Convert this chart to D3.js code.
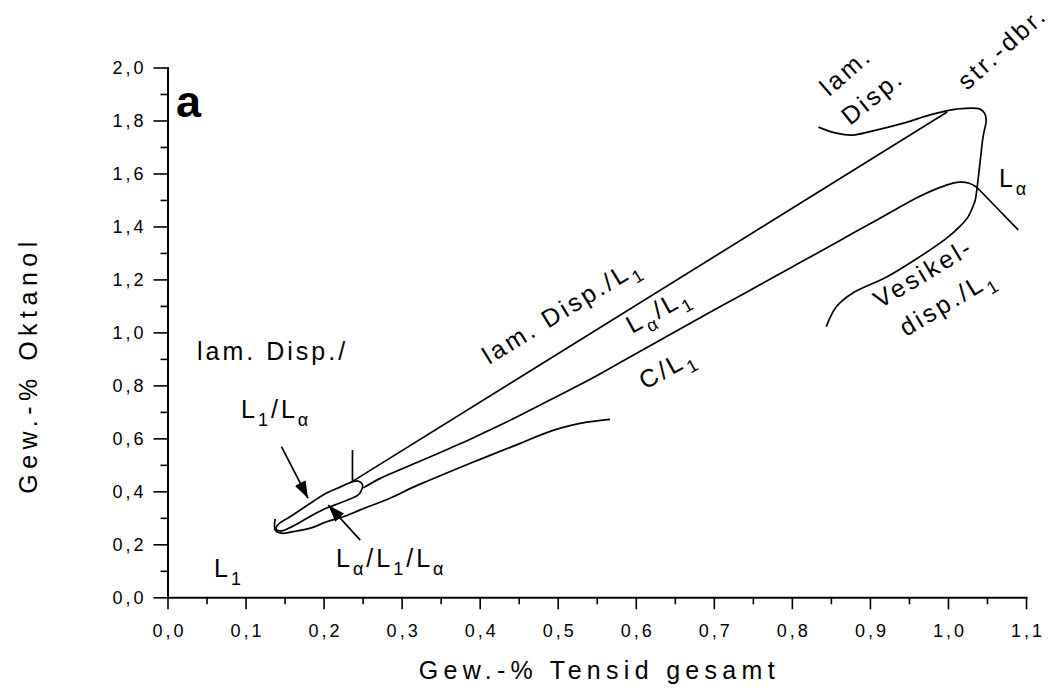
<!DOCTYPE html>
<html><head><meta charset="utf-8">
<script src="https://cdn.jsdelivr.net/npm/d3@7/dist/d3.min.js"></script>
<style>
body{margin:0;background:#fff}
text{font-family:"Liberation Sans",Arial,sans-serif;fill:#000}
</style>
</head><body>
<svg id="chart" width="1061" height="693"></svg>
<script>
// ---------- data (Gew.-% Tensid gesamt, Gew.-% Oktanol) ----------
const X_MAJOR = [0,0.1,0.2,0.3,0.4,0.5,0.6,0.7,0.8,0.9,1.0,1.1];
const X_LABELS = ["0,0","0,1","0,2","0,3","0,4","0,5","0,6","0,7","0,8","0,9","1,0","1,1"];
const X_MINOR = [0.05,0.15,0.25,0.35,0.45,0.55,0.65,0.75,0.85,0.95,1.05];
const Y_MAJOR = [0,0.2,0.4,0.6,0.8,1.0,1.2,1.4,1.6,1.8,2.0];
const Y_LABELS = ["0,0","0,2","0,4","0,6","0,8","1,0","1,2","1,4","1,6","1,8","2,0"];
const Y_MINOR = [0.1,0.3,0.5,0.7,0.9,1.1,1.3,1.5,1.7,1.9];

// straight boundary lam. Disp./L1
const lineLamDisp = [[0.234,0.432],[0.999,1.832]];
// small vertical mark at the end of the loop
const markLine = [[0.237,0.556],[0.237,0.436]];
// upper / right boundary (lam. Disp., str.-dbr., Vesikel-disp.)
const curveTop = [
  [0.834,1.775],[0.857,1.752],[0.878,1.745],[0.900,1.758],[0.942,1.789],[0.977,1.821],
  [0.998,1.836],[1.011,1.843],[1.041,1.843],[1.047,1.827],[1.049,1.802],[1.045,1.739],
  [1.041,1.638],[1.037,1.538],[1.035,1.500],[1.032,1.475],[1.026,1.437],[1.015,1.399],
  [0.998,1.355],[0.964,1.286],[0.922,1.210],[0.878,1.149],[0.857,1.097],[0.844,1.022]
];
// L_alpha / L1 boundary (middle curve)
const curveMiddle = [
  [0.251,0.413],[0.272,0.448],[0.315,0.503],[0.362,0.563],[0.388,0.597],[0.439,0.668],
  [0.490,0.745],[0.541,0.822],[0.588,0.900],[0.644,0.992],[0.699,1.083],[0.742,1.152],
  [0.801,1.248],[0.849,1.326],[0.878,1.374],[0.922,1.446],[0.964,1.514],[0.998,1.556],
  [1.015,1.567],[1.028,1.562],[1.037,1.548]
];
// L_alpha boundary straight tail
const lineAlphaTail = [[1.037,1.548],[1.090,1.387]];
// lower curve (C / L1)
const curveLower = [
  [0.138,0.296],[0.138,0.254],[0.146,0.242],[0.161,0.248],[0.183,0.261],[0.204,0.285],
  [0.225,0.304],[0.247,0.330],[0.285,0.374],[0.315,0.416],[0.334,0.440],[0.388,0.506],
  [0.452,0.581],[0.494,0.630],[0.537,0.661],[0.567,0.672]
];
// three-phase loop L_alpha/L1/L_alpha
const loopCurve = [
  [0.139,0.262],[0.144,0.281],[0.157,0.304],[0.186,0.361],[0.204,0.394],[0.221,0.416],
  [0.238,0.437],[0.244,0.439],[0.250,0.424],[0.248,0.401],[0.244,0.386],[0.221,0.356],
  [0.204,0.337],[0.186,0.311],[0.166,0.277],[0.148,0.252],[0.140,0.254]
];
// annotation arrows [from, to]
const arrowsData = [
  [[0.146,0.569],[0.180,0.374]],
  [[0.247,0.216],[0.206,0.348]]
];

// ---------- layout ----------
const svg = d3.select("#chart");
const x = d3.scaleLinear().domain([0,1.1]).range([167.5,1026]);
const y = d3.scaleLinear().domain([0,2.0]).range([597.3,67.5]);

// axes
const gxMinor = svg.append("g").attr("transform",`translate(0,${y(0)})`)
  .call(d3.axisBottom(x).tickValues(X_MINOR).tickSize(7).tickSizeOuter(0).tickFormat(""));
gxMinor.select(".domain").remove();
const gx = svg.append("g").attr("transform",`translate(0,${y(0)})`)
  .call(d3.axisBottom(x).tickValues(X_MAJOR).tickSize(12).tickSizeOuter(0)
    .tickFormat((d,i)=>X_LABELS[i]));
gx.selectAll("text").attr("y",40).attr("dy",null).attr("dx",1.5)
  .style("font-size","18px").style("letter-spacing","3px");

const gyMinor = svg.append("g").attr("transform",`translate(${x(0)},0)`)
  .call(d3.axisLeft(y).tickValues(Y_MINOR).tickSize(7).tickSizeOuter(0).tickFormat(""));
gyMinor.select(".domain").remove();
const gy = svg.append("g").attr("transform",`translate(${x(0)},0)`)
  .call(d3.axisLeft(y).tickValues(Y_MAJOR).tickSize(14).tickSizeOuter(0)
    .tickFormat((d,i)=>Y_LABELS[i]));
gy.selectAll("text").attr("x",-21).attr("dy","0.36em")
  .style("font-size","18px").style("letter-spacing","3px");

svg.selectAll(".domain").attr("stroke","#000").attr("stroke-width",2).attr("stroke-linecap","square");
svg.selectAll(".tick line").attr("stroke","#000").attr("stroke-width",1.6);
svg.selectAll(".tick text").attr("fill","#000");

// axis titles
svg.append("text").attr("x",(x(0)+x(1.1))/2+2.6).attr("y",679)
  .attr("text-anchor","middle").style("font-size","25px").style("letter-spacing","5.3px")
  .text("Gew.-% Tensid gesamt");
svg.append("text").attr("transform","translate(37,365) rotate(-90)")
  .attr("text-anchor","middle").style("font-size","25px").style("letter-spacing","5.5px")
  .text("Gew.-% Oktanol");

// curves
const lin = d3.line().x(d=>x(d[0])).y(d=>y(d[1]));
const smooth = d3.line().x(d=>x(d[0])).y(d=>y(d[1])).curve(d3.curveCatmullRom.alpha(0.5));
const smoothClosed = d3.line().x(d=>x(d[0])).y(d=>y(d[1])).curve(d3.curveCatmullRomClosed.alpha(0.5));
const g = svg.append("g").attr("fill","none").attr("stroke","#000").attr("stroke-width",1.7)
  .attr("stroke-linejoin","round");
g.append("path").attr("d",lin(lineLamDisp));
g.append("path").attr("d",lin(markLine));
g.append("path").attr("d",smooth(curveTop));
g.append("path").attr("d",smooth(curveMiddle));
g.append("path").attr("d",lin(lineAlphaTail));
g.append("path").attr("d",smooth(curveLower));
g.append("path").attr("d",smoothClosed(loopCurve));

// arrows
svg.append("defs").append("marker").attr("id","ah")
  .attr("markerUnits","userSpaceOnUse").attr("markerWidth",18).attr("markerHeight",12)
  .attr("refX",17).attr("refY",6).attr("orient","auto")
  .append("path").attr("d","M0,0L17,6L0,12Z").attr("fill","#000");
svg.append("g").selectAll("path").data(arrowsData).join("path")
  .attr("d",d=>lin(d)).attr("stroke","#000").attr("stroke-width",1.7).attr("fill","none")
  .attr("marker-end","url(#ah)");

// labels
function label(parts, X, Y, angle){
  const t = svg.append("text")
    .attr("transform",`translate(${x(X)},${y(Y)}) rotate(${angle||0})`)
    .style("font-size","25px").style("letter-spacing","3px");
  let sub = false;
  parts.forEach(p=>{
    const isSub = p[1]===1;
    const ts = t.append("tspan").text(p[0]);
    if(isSub && !sub) ts.attr("dy",8);
    if(!isSub && sub) ts.attr("dy",-8);
    if(isSub) ts.style("font-size","18px");
    sub = isSub;
  });
  return t;
}
label([["lam. Disp./"]], 0.0378, 0.896, 0);
label([["L"],["1",1],["/L"],["α",1]], 0.0942, 0.676, 0);
label([["L"],["1",1]], 0.0596, 0.0766, 0);
label([["L"],["α",1],["/L"],["1",1],["/L"],["α",1]], 0.2159, 0.1144, 0);
label([["lam. Disp./L"],["1",1]], 0.4119, 0.877, -31.5);
label([["L"],["α",1],["/L"],["1",1]], 0.5951, 0.994, -29);
label([["C/L"],["1",1]], 0.6118, 0.7826, -29);
label([["Vesikel-"]], 0.9129, 1.0883, -31);
label([["disp./L"],["1",1]], 0.9462, 0.9826, -31);
label([["lam."]], 0.8475, 1.8886, -41);
label([["Disp."]], 0.8744, 1.7792, -39);
label([["str.-dbr."]], 1.0243, 1.9113, -42);
label([["L"],["α",1]], 1.0653, 1.5489, 0);
svg.append("text").attr("x",x(0.0109)).attr("y",y(1.8131))
  .style("font-size","45px").style("font-weight","bold").text("a");
</script>
</body></html>
